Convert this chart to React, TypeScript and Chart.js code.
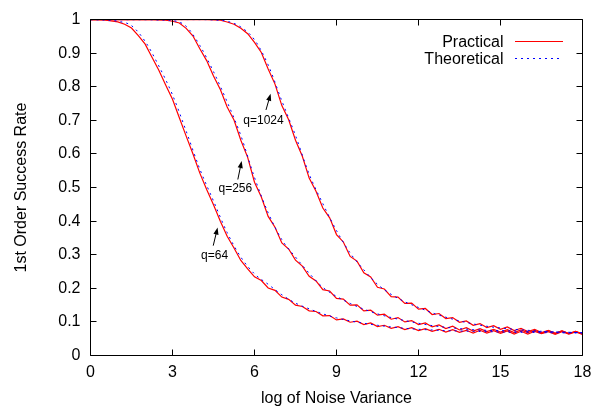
import React, { useEffect, useRef } from "react";
import { Chart, registerables } from "chart.js";

Chart.register(...registerables);

// ---------- data ----------
const X_FINE = [
  0, 0.25, 0.5, 0.75, 1, 1.25, 1.5, 1.75, 2, 2.25, 2.5, 2.75, 3, 3.25, 3.5, 3.75,
  4, 4.25, 4.5, 4.75, 5, 5.25, 5.5, 5.75, 6, 6.25, 6.5, 6.75, 7, 7.25, 7.5, 7.75,
  8, 8.25, 8.5, 8.75, 9, 9.25, 9.5, 9.75, 10, 10.25, 10.5, 10.75, 11, 11.25, 11.5, 11.75,
  12, 12.25, 12.5, 12.75, 13, 13.25, 13.5, 13.75, 14, 14.25, 14.5, 14.75, 15, 15.25, 15.5, 15.75,
  16, 16.25, 16.5, 16.75, 17, 17.25, 17.5, 17.75, 18,
];

const X_COARSE = [
  0, 0.5, 1, 1.5, 2, 2.5, 3, 3.5, 4, 4.5, 5, 5.5, 6, 6.5, 7, 7.5, 8, 8.5, 9,
  9.5, 10, 10.5, 11, 11.5, 12, 12.5, 13, 13.5, 14, 14.5, 15, 15.5, 16, 16.5, 17, 17.5, 18,
];

// Practical (measured) success rates, sampled on X_FINE
const PRACTICAL_Q64 = [
  1.0, 1.0, 0.999, 0.996, 0.993, 0.986, 0.975, 0.952, 0.927, 0.888, 0.849, 0.805, 0.763, 0.708, 0.653, 0.6,
  0.543, 0.494, 0.449, 0.4, 0.355, 0.32, 0.283, 0.258, 0.234, 0.223, 0.201, 0.194, 0.174, 0.167, 0.15, 0.146,
  0.133, 0.131, 0.118, 0.119, 0.106, 0.109, 0.099, 0.102, 0.092, 0.097, 0.086, 0.09, 0.081, 0.086, 0.077, 0.083,
  0.074, 0.08, 0.072, 0.078, 0.07, 0.077, 0.069, 0.075, 0.067, 0.075, 0.067, 0.074, 0.066, 0.073, 0.064, 0.072,
  0.064, 0.072, 0.065, 0.071, 0.063, 0.071, 0.064, 0.07, 0.063,
];

const PRACTICAL_Q256 = [
  1, 1, 1, 1, 1, 1, 1, 1, 1, 1, 0.999, 0.998, 0.995, 0.99, 0.974, 0.951,
  0.913, 0.878, 0.832, 0.792, 0.74, 0.701, 0.641, 0.59, 0.516, 0.472, 0.414, 0.382, 0.335, 0.317, 0.284, 0.266,
  0.236, 0.222, 0.196, 0.192, 0.17, 0.168, 0.15, 0.151, 0.133, 0.135, 0.12, 0.123, 0.108, 0.113, 0.1, 0.104,
  0.092, 0.097, 0.085, 0.091, 0.08, 0.087, 0.076, 0.083, 0.073, 0.08, 0.071, 0.078, 0.07, 0.077, 0.068, 0.076,
  0.068, 0.075, 0.066, 0.074, 0.066, 0.073, 0.065, 0.072, 0.064,
];

const PRACTICAL_Q1024 = [
  1, 1, 1, 1, 1, 1, 1, 1, 1, 1, 1, 1, 1, 1, 1, 1,
  1, 1, 0.999, 0.998, 0.993, 0.986, 0.974, 0.958, 0.932, 0.902, 0.853, 0.808, 0.744, 0.702, 0.641, 0.593,
  0.528, 0.489, 0.439, 0.41, 0.36, 0.338, 0.295, 0.281, 0.246, 0.234, 0.203, 0.198, 0.175, 0.174, 0.155, 0.156,
  0.138, 0.14, 0.122, 0.125, 0.11, 0.113, 0.099, 0.103, 0.09, 0.095, 0.083, 0.089, 0.078, 0.085, 0.074, 0.081,
  0.071, 0.078, 0.068, 0.075, 0.066, 0.073, 0.065, 0.072, 0.064,
];

// Theoretical success rates, sampled on X_COARSE
const THEORY_Q64 = [
  1.0, 0.999, 0.995, 0.982, 0.935, 0.862, 0.776, 0.668, 0.555, 0.46, 0.366, 0.293, 0.243, 0.212, 0.181, 0.156,
  0.139, 0.124, 0.112, 0.103, 0.096, 0.09, 0.085, 0.081, 0.078, 0.076, 0.074, 0.073, 0.072, 0.071, 0.07, 0.069,
  0.069, 0.068, 0.068, 0.067, 0.067,
];

const THEORY_Q256 = [
  1, 1, 1, 1, 1, 0.999, 0.997, 0.98, 0.923, 0.845, 0.755, 0.655, 0.53, 0.425, 0.345, 0.293,
  0.245, 0.203, 0.176, 0.155, 0.138, 0.124, 0.113, 0.104, 0.096, 0.089, 0.084, 0.08, 0.077, 0.075, 0.074, 0.073,
  0.072, 0.071, 0.07, 0.069, 0.068,
];

const THEORY_Q1024 = [
  1, 1, 1, 1, 1, 1, 1, 1, 1, 0.999, 0.995, 0.978, 0.94, 0.865, 0.758, 0.655,
  0.54, 0.452, 0.372, 0.305, 0.255, 0.212, 0.182, 0.16, 0.143, 0.127, 0.114, 0.103, 0.094, 0.087, 0.082, 0.078,
  0.075, 0.072, 0.07, 0.069, 0.068,
];

const SERIES_NAMES = ["Practical", "Theoretical"];
const Q_LABELS = ["q=64", "q=256", "q=1024"];

const X_TICKS = [0, 3, 6, 9, 12, 15, 18];
const X_TICK_LABELS = ["0", "3", "6", "9", "12", "15", "18"];
const Y_TICKS = [0, 0.1, 0.2, 0.3, 0.4, 0.5, 0.6, 0.7, 0.8, 0.9, 1];
const Y_TICK_LABELS = ["0", "0.1", "0.2", "0.3", "0.4", "0.5", "0.6", "0.7", "0.8", "0.9", "1"];

const X_TITLE = "log of Noise Variance";
const Y_TITLE = "1st Order Success Rate";

// annotation anchors in data coordinates: label centre, arrow tail, arrow tip
const LABEL_X = [4.54, 5.3, 6.33];
const LABEL_Y = [0.298, 0.498, 0.7];
const ARROW_FROM_X = [4.49, 5.39, 6.42];
const ARROW_FROM_Y = [0.327, 0.524, 0.731];
const ARROW_TO_X = [4.65, 5.53, 6.59];
const ARROW_TO_Y = [0.381, 0.579, 0.779];

// ---------- styles ----------
const RED = "#ff0000";
const BLUE = "#0000ff";
const DASH = [2, 4];
const FONT = "'Liberation Sans', Arial, Helvetica, sans-serif";

const framePlugin = {
  id: "gnuFrame",
  afterDatasetsDraw(chart: any) {
    const { ctx, chartArea, scales } = chart;
    const { left, right, top, bottom } = chartArea;
    const xs = scales.x;
    const ys = scales.y;
    const snap = (v: number) => Math.floor(v) + 0.5;
    ctx.save();
    ctx.strokeStyle = "#000";
    ctx.lineWidth = 1;
    ctx.setLineDash([]);
    ctx.beginPath();
    const L = snap(left), R = snap(right), T = snap(top), B = snap(bottom);
    ctx.rect(L, T, R - L, B - T);
    const tl = 6;
    for (const v of Y_TICKS) {
      const py = snap(ys.getPixelForValue(v));
      ctx.moveTo(L, py); ctx.lineTo(L + tl, py);
      ctx.moveTo(R, py); ctx.lineTo(R - tl, py);
    }
    for (const v of X_TICKS) {
      const px = snap(xs.getPixelForValue(v));
      ctx.moveTo(px, B); ctx.lineTo(px, B - tl);
      ctx.moveTo(px, T); ctx.lineTo(px, T + tl);
    }
    ctx.stroke();

    // legend (gnuplot style, top-right inside)
    ctx.font = `16px ${FONT}`;
    ctx.textAlign = "right";
    ctx.textBaseline = "alphabetic";
    const textRight = right - 79;
    const sx0 = right - 67.5;
    const sx1 = right - 20;
    const rows = [top + 21.5, top + 38.5];
    SERIES_NAMES.forEach((name, i) => {
      ctx.fillStyle = "#000";
      ctx.fillText(name, textRight, rows[i] + 6);
      const ry = Math.floor(rows[i]);
      if (i === 0) {
        ctx.fillStyle = RED;
        ctx.fillRect(Math.round(sx0), ry, Math.round(sx1 - sx0), 1);
      } else {
        ctx.fillStyle = BLUE;
        for (let px = Math.round(sx0); px < sx1; px += DASH[0] + DASH[1]) {
          ctx.fillRect(px, ry, DASH[0], 1);
        }
      }
    });

    // q annotations with arrows
    ctx.font = `12px ${FONT}`;
    ctx.textAlign = "center";
    ctx.fillStyle = "#000";
    ctx.strokeStyle = "#000";
    Q_LABELS.forEach((lab, i) => {
      const lx = xs.getPixelForValue(LABEL_X[i]);
      const ly = ys.getPixelForValue(LABEL_Y[i]);
      ctx.fillText(lab, lx, ly + 4);
      const x0 = xs.getPixelForValue(ARROW_FROM_X[i]);
      const y0 = ys.getPixelForValue(ARROW_FROM_Y[i]);
      const x1 = xs.getPixelForValue(ARROW_TO_X[i]);
      const y1 = ys.getPixelForValue(ARROW_TO_Y[i]);
      const ang = Math.atan2(y1 - y0, x1 - x0);
      const hl = 7, hw = 2.6;
      ctx.beginPath();
      ctx.moveTo(x0, y0);
      ctx.lineTo(x1 - Math.cos(ang) * hl * 0.8, y1 - Math.sin(ang) * hl * 0.8);
      ctx.stroke();
      ctx.beginPath();
      ctx.moveTo(x1, y1);
      const bx = x1 - Math.cos(ang) * hl;
      const by = y1 - Math.sin(ang) * hl;
      ctx.lineTo(bx + Math.sin(ang) * hw, by - Math.cos(ang) * hw);
      ctx.lineTo(bx - Math.sin(ang) * hw, by + Math.cos(ang) * hw);
      ctx.closePath();
      ctx.fill();
    });
    ctx.restore();
  },
};

function toPoints(xs: number[], ys: number[]) {
  return xs.map((x, i) => ({ x, y: ys[i] }));
}

export default function App() {
  const ref = useRef<HTMLCanvasElement | null>(null);

  useEffect(() => {
    if (!ref.current) return;
    Chart.defaults.font.family = FONT;
    const practical = [PRACTICAL_Q64, PRACTICAL_Q256, PRACTICAL_Q1024];
    const theory = [THEORY_Q64, THEORY_Q256, THEORY_Q1024];
    const datasets: any[] = [];
    practical.forEach((p, i) => {
      datasets.push({
        label: SERIES_NAMES[0] + " " + Q_LABELS[i],
        data: toPoints(X_FINE, p),
        borderColor: RED,
        borderWidth: 1.2,
        pointRadius: 0,
        tension: 0,
        order: 2,
      });
    });
    theory.forEach((t, i) => {
      datasets.push({
        label: SERIES_NAMES[1] + " " + Q_LABELS[i],
        data: toPoints(X_COARSE, t),
        borderColor: BLUE,
        borderWidth: 1,
        borderDash: DASH,
        pointRadius: 0,
        cubicInterpolationMode: "monotone",
        order: 1,
      });
    });

    const chart = new Chart(ref.current, {
      type: "line",
      data: { datasets },
      plugins: [framePlugin],
      options: {
        responsive: false,
        animation: false,
        devicePixelRatio: 1,
        layout: { padding: { top: 6.5, right: 24.5, bottom: 0, left: 0 } },
        plugins: { legend: { display: false }, tooltip: { enabled: false } },
        elements: { point: { radius: 0 } },
        scales: {
          x: {
            type: "linear",
            min: 0,
            max: 18,
            afterBuildTicks: (s: any) => {
              s.ticks = X_TICKS.map((v) => ({ value: v }));
            },
            afterFit: (s: any) => {
              s.height = 60.5;
            },
            ticks: {
              color: "#000",
              padding: 7,
              font: { size: 16, family: FONT },
              maxRotation: 0,
              autoSkip: false,
              callback: (v: any) => {
                const i = X_TICKS.indexOf(Number(v));
                return i >= 0 ? X_TICK_LABELS[i] : "";
              },
            },
            grid: { display: false, drawTicks: false },
            border: { display: false },
            title: {
              display: true,
              text: X_TITLE,
              color: "#000",
              font: { size: 16, family: FONT },
              padding: { top: 0, bottom: 8 },
            },
          },
          y: {
            type: "linear",
            min: 0,
            max: 1,
            afterBuildTicks: (s: any) => {
              s.ticks = Y_TICKS.map((v) => ({ value: v }));
            },
            afterFit: (s: any) => {
              s.width = 90.5;
            },
            ticks: {
              color: "#000",
              padding: 10,
              font: { size: 16, family: FONT },
              autoSkip: false,
              callback: (v: any) => {
                const i = Y_TICKS.findIndex((t) => Math.abs(t - Number(v)) < 1e-9);
                return i >= 0 ? Y_TICK_LABELS[i] : "";
              },
            },
            grid: { display: false, drawTicks: false },
            border: { display: false },
            title: {
              display: true,
              text: Y_TITLE,
              color: "#000",
              font: { size: 16, family: FONT },
              padding: { top: 12, bottom: 0 },
            },
          },
        },
      },
    });
    return () => chart.destroy();
  }, []);

  return (
    <div style={{ position: "absolute", left: 0, top: 0, width: 607, height: 416, background: "#fff" }}>
      <canvas ref={ref} width={607} height={416} />
    </div>
  );
}
